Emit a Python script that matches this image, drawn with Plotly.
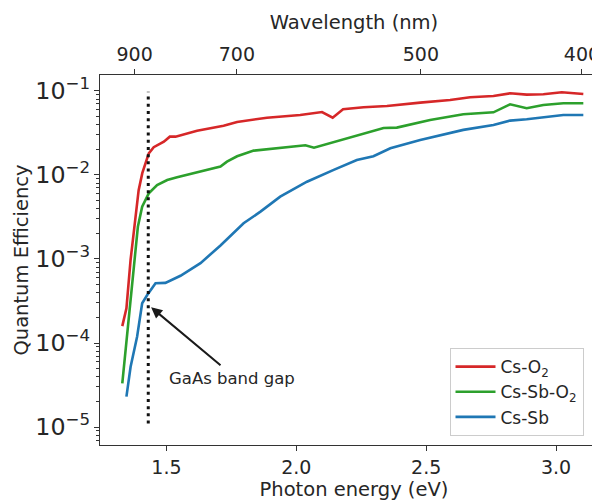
import plotly.graph_objects as go

# ---------------- data ----------------
cs_o2_energy = [1.330, 1.346, 1.362, 1.393, 1.407, 1.432, 1.451, 1.490, 1.513, 1.535,
                1.618, 1.720, 1.772, 1.887, 2.015, 2.099, 2.140, 2.180, 2.259, 2.349,
                2.477, 2.592, 2.669, 2.759, 2.823, 2.887, 2.951, 3.022, 3.105]
cs_o2_qe = [1.59e-4, 2.59e-4, 9.8e-4, 6.6e-3, 1.05e-2, 1.81e-2, 2.14e-2, 2.49e-2, 2.86e-2, 2.86e-2,
            3.37e-2, 3.86e-2, 4.28e-2, 4.81e-2, 5.18e-2, 5.62e-2, 4.81e-2, 6.05e-2, 6.40e-2, 6.62e-2,
            7.26e-2, 7.82e-2, 8.41e-2, 8.71e-2, 9.38e-2, 9.04e-2, 9.12e-2, 9.64e-2, 9.20e-2]

cs_sb_o2_energy = [1.330, 1.346, 1.362, 1.374, 1.390, 1.4065, 1.432, 1.464, 1.503, 1.541,
                   1.631, 1.708, 1.733, 1.772, 1.836, 1.913, 1.977, 2.035, 2.068, 2.208,
                   2.336, 2.387, 2.515, 2.643, 2.759, 2.823, 2.887, 2.951, 3.028, 3.105]
cs_sb_o2_qe = [3.31e-5, 1.09e-4, 3.25e-4, 8.9e-4, 2.42e-3, 4.20e-3, 6.05e-3, 7.60e-3, 8.71e-3, 9.38e-3,
               1.09e-2, 1.26e-2, 1.44e-2, 1.67e-2, 1.95e-2, 2.08e-2, 2.17e-2, 2.26e-2, 2.11e-2, 2.83e-2,
               3.63e-2, 3.66e-2, 4.52e-2, 5.28e-2, 5.57e-2, 6.93e-2, 6.22e-2, 6.81e-2, 7.13e-2, 7.13e-2]

cs_sb_energy = [1.346, 1.362, 1.387, 1.4065, 1.426, 1.458, 1.496, 1.554, 1.631, 1.708,
                1.797, 1.862, 1.938, 2.041, 2.144, 2.233, 2.297, 2.362, 2.477, 2.643,
                2.759, 2.823, 2.887, 2.964, 3.028, 3.105]
cs_sb_qe = [2.30e-5, 5.22e-5, 1.19e-4, 2.97e-4, 3.72e-4, 5.14e-4, 5.19e-4, 6.31e-4, 8.91e-4, 1.45e-3,
            2.66e-3, 3.66e-3, 5.52e-3, 8.32e-3, 1.15e-2, 1.51e-2, 1.67e-2, 2.08e-2, 2.61e-2, 3.44e-2,
            3.94e-2, 4.44e-2, 4.60e-2, 4.94e-2, 5.18e-2, 5.18e-2]

wavelength_ticks_nm = [900, 700, 500, 400]
HC_EV_NM = 1239.84
GAP_EV = 1.43
gap_line_qe = [1.1e-5, 9.8e-2]
arrow_tip = (1.441, -3.575)     # (eV, log10 QE)
arrow_tail = (1.714, -4.28)
label_pos = (1.503, -4.417)

x_range = [1.2442, 3.2]
y_range_log = [-5.214, -0.810]

FONT = "DejaVu Sans"
TXT = "#262626"
AX = "#333333"

fig = go.Figure()
series = [("Cs-O<sub>2</sub>", cs_o2_energy, cs_o2_qe, "#d62728"),
          ("Cs-Sb-O<sub>2</sub>", cs_sb_o2_energy, cs_sb_o2_qe, "#2ca02c"),
          ("Cs-Sb", cs_sb_energy, cs_sb_qe, "#1f77b4")]
for i, (name, e, q, c) in enumerate(series):
    fig.add_trace(go.Scatter(x=e, y=q, mode="lines", name=name,
                             line=dict(color=c, width=2.6)))

# dotted GaAs band-gap marker
fig.add_trace(go.Scatter(x=[GAP_EV, GAP_EV], y=gap_line_qe, mode="lines", showlegend=False,
                         hoverinfo="skip", line=dict(color="#111111", width=3, dash="3px,4.2px")))

# invisible trace so the top (wavelength) axis is created
fig.add_trace(go.Scatter(x=cs_sb_energy, y=cs_sb_qe, xaxis="x2", mode="lines",
                         line=dict(width=0), opacity=0, showlegend=False, hoverinfo="skip"))

fig.add_annotation(x=arrow_tip[0], y=arrow_tip[1], ax=arrow_tail[0], ay=arrow_tail[1],
                   xref="x", yref="y", axref="x", ayref="y", text="", showarrow=True,
                   arrowhead=2, arrowsize=1.1, arrowwidth=2, arrowcolor="#1a1a1a")
fig.add_annotation(x=label_pos[0], y=label_pos[1], xref="x", yref="y",
                   text="GaAs band gap", showarrow=False, xanchor="left", yanchor="middle",
                   font=dict(family=FONT, size=16.5, color=TXT))

common = dict(showgrid=False, zeroline=False, showline=True, linecolor=AX, linewidth=1.3,
              ticks="outside", ticklen=5, tickwidth=1.2, tickcolor=AX, automargin=False,
              tickfont=dict(size=19, color=TXT))

fig.update_layout(
    width=600, height=500,
    margin=dict(l=92, r=0, t=67, b=63),
    paper_bgcolor="white", plot_bgcolor="white",
    font=dict(family=FONT, color=TXT, size=19),
    xaxis=dict(range=x_range, tickvals=[1.5, 2.0, 2.5, 3.0], ticktext=["1.5", "2.0", "2.5", "3.0"],
               title=dict(text="Photon energy (eV)", font=dict(size=19.5, color=TXT), standoff=1),
               **common),
    xaxis2=dict(range=x_range, overlaying="x", side="top", anchor="y",
                tickvals=[HC_EV_NM / w for w in wavelength_ticks_nm],
                ticktext=[str(w) for w in wavelength_ticks_nm],
                title=dict(text="Wavelength (nm)", font=dict(size=19.5, color=TXT), standoff=8),
                **common),
    yaxis=dict(type="log", range=y_range_log, dtick=1, exponentformat="power",
               minor=dict(ticks="outside", ticklen=3, tickwidth=1, tickcolor=AX, showgrid=False),
               title=dict(text="Quantum Efficiency", font=dict(size=19.5, color=TXT), standoff=1),
               **common),
    legend=dict(x=0.688, y=0.024, xanchor="left", yanchor="bottom", itemwidth=40,
                bgcolor="rgba(255,255,255,0.9)", bordercolor="#cccccc", borderwidth=1,
                font=dict(family=FONT, size=17, color=TXT), tracegroupgap=0),
    showlegend=True,
)

fig.write_html("out.html")
